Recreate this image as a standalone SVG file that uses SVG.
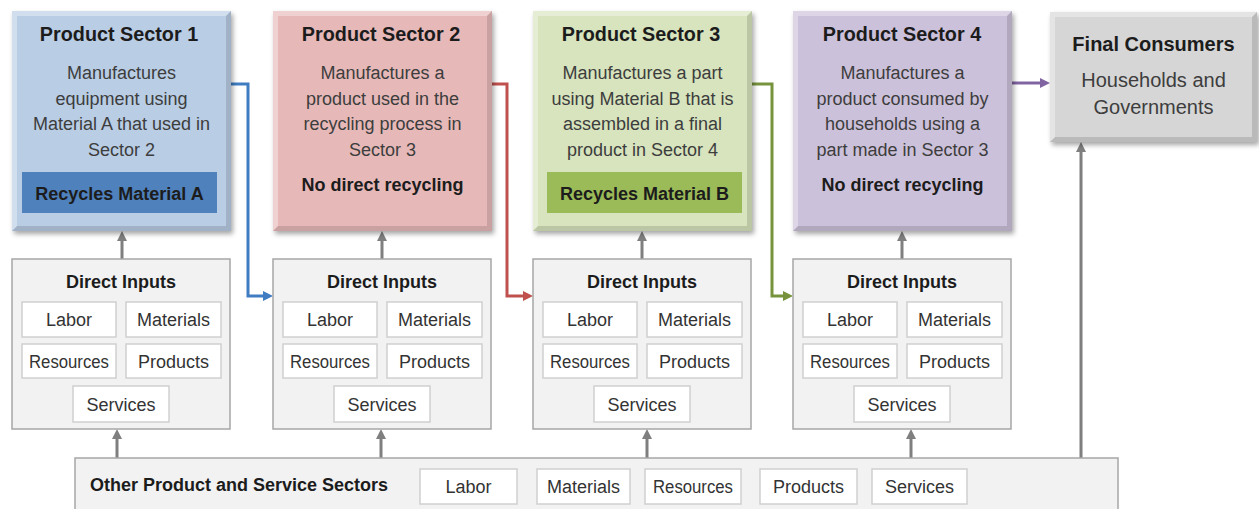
<svg xmlns="http://www.w3.org/2000/svg" xmlns:xlink="http://www.w3.org/1999/xlink" width="1259" height="509" viewBox="0 0 1259 509">
<style>
text{font-family:"Liberation Sans",Arial,sans-serif;text-anchor:middle}
.t{font-size:18px;font-weight:bold;fill:#1c1c1c}
.pt{font-size:19.8px;font-weight:bold;fill:#1c1c1c}
.b{font-size:18px;fill:#3d3d3d}
.ft{font-size:20px;font-weight:bold;fill:#1c1c1c}
.fb{font-size:20px;fill:#3d3d3d}
.s{font-size:18px;fill:#333}
.hl{fill:#fff;opacity:.35}
.dk{fill:#000;opacity:.13}
.di{fill:#f2f2f2;stroke:#a6a6a6;stroke-width:1.5}
.sb{fill:#fff;stroke:#d0d0d0;stroke-width:1.5}
.g{stroke:#7f7f7f;stroke-width:3;fill:none;marker-end:url(#ag)}
</style>
<defs>
<filter id="sh" x="-10%" y="-10%" width="125%" height="125%">
<feDropShadow dx="2" dy="3" stdDeviation="2.5" flood-color="#000" flood-opacity=".35"/>
</filter>
<g id="bev">
<polygon class="hl" points="0,0 219,0 214,5 5,5 5,215 0,220"/>
<polygon class="dk" points="219,0 219,220 0,220 5,215 214,215 214,5"/>
</g>
<marker id="ag" markerUnits="userSpaceOnUse" markerWidth="12" markerHeight="12" refX="4" refY="5" orient="auto"><path d="M0,0 L10,5 L0,10 z" fill="#7f7f7f"/></marker>
<marker id="ab" markerUnits="userSpaceOnUse" markerWidth="12" markerHeight="12" refX="4" refY="5" orient="auto"><path d="M0,0 L10,5 L0,10 z" fill="#3f7cc2"/></marker>
<marker id="ar" markerUnits="userSpaceOnUse" markerWidth="12" markerHeight="12" refX="4" refY="5" orient="auto"><path d="M0,0 L10,5 L0,10 z" fill="#c0504d"/></marker>
<marker id="agr" markerUnits="userSpaceOnUse" markerWidth="12" markerHeight="12" refX="4" refY="5" orient="auto"><path d="M0,0 L10,5 L0,10 z" fill="#77933c"/></marker>
<marker id="ap" markerUnits="userSpaceOnUse" markerWidth="12" markerHeight="12" refX="4" refY="5" orient="auto"><path d="M0,0 L10,5 L0,10 z" fill="#8064a2"/></marker>
</defs>

<g id="connectors">
<polyline points="231,84 248,84 248,296 267,296" fill="none" stroke="#3f7cc2" stroke-width="3" marker-end="url(#ab)"/>
<polyline points="491,84 507,84 507,296 527,296" fill="none" stroke="#c0504d" stroke-width="3" marker-end="url(#ar)"/>
<polyline points="751,84 772,84 772,296 787,296" fill="none" stroke="#77933c" stroke-width="3" marker-end="url(#agr)"/>
<line x1="1012" y1="83" x2="1044" y2="83" stroke="#8064a2" stroke-width="3" marker-end="url(#ap)"/>
<line class="g" x1="122" y1="259" x2="122" y2="237"/>
<line class="g" x1="382" y1="259" x2="382" y2="237"/>
<line class="g" x1="642" y1="259" x2="642" y2="237"/>
<line class="g" x1="902" y1="259" x2="902" y2="237"/>
<line class="g" x1="117" y1="458" x2="117" y2="435"/>
<line class="g" x1="381" y1="458" x2="381" y2="435"/>
<line class="g" x1="647" y1="458" x2="647" y2="435"/>
<line class="g" x1="911" y1="458" x2="911" y2="435"/>
<line class="g" x1="1081" y1="458" x2="1081" y2="148"/>
</g>

<g id="sector1" transform="translate(12,11)">
<rect width="219" height="220" fill="#b9cde5" filter="url(#sh)"/>
<use xlink:href="#bev"/>
<text class="pt" x="107" y="29.5">Product Sector 1</text>
<text class="b" x="109.5" y="68">Manufactures</text>
<text class="b" x="109.5" y="93.5">equipment using</text>
<text class="b" x="109.5" y="119">Material A that used in</text>
<text class="b" x="109.5" y="144.5">Sector 2</text>
<rect x="10" y="161" width="195" height="41" fill="#4f81bd"/>
<text class="t" x="107.5" y="188.5">Recycles Material A</text>
</g>

<g id="sector2" transform="translate(273,11)">
<rect width="219" height="220" fill="#e6b9b8" filter="url(#sh)"/>
<use xlink:href="#bev"/>
<text class="pt" x="108" y="29.5">Product Sector 2</text>
<text class="b" x="109.5" y="68">Manufactures a</text>
<text class="b" x="109.5" y="93.5">product used in the</text>
<text class="b" x="109.5" y="119">recycling process in</text>
<text class="b" x="109.5" y="144.5">Sector 3</text>
<text class="t" x="109.5" y="180">No direct recycling</text>
</g>

<g id="sector3" transform="translate(533,11)">
<rect width="219" height="220" fill="#d7e4bd" filter="url(#sh)"/>
<use xlink:href="#bev"/>
<text class="pt" x="108" y="29.5">Product Sector 3</text>
<text class="b" x="109.5" y="68">Manufactures a part</text>
<text class="b" x="109.5" y="93.5">using Material B that is</text>
<text class="b" x="109.5" y="119">assembled in a final</text>
<text class="b" x="109.5" y="144.5">product in Sector 4</text>
<rect x="14" y="161" width="195" height="41" fill="#9bbb59"/>
<text class="t" x="111.5" y="188.5">Recycles Material B</text>
</g>

<g id="sector4" transform="translate(793,11)">
<rect width="219" height="220" fill="#ccc1da" filter="url(#sh)"/>
<use xlink:href="#bev"/>
<text class="pt" x="109" y="29.5">Product Sector 4</text>
<text class="b" x="109.5" y="68">Manufactures a</text>
<text class="b" x="109.5" y="93.5">product consumed by</text>
<text class="b" x="109.5" y="119">households using a</text>
<text class="b" x="109.5" y="144.5">part made in Sector 3</text>
<text class="t" x="109.5" y="180">No direct recycling</text>
</g>

<g id="final-consumers" transform="translate(1050,12)">
<rect width="207" height="130" fill="#d6d6d6" filter="url(#sh)"/>
<polygon class="hl" points="0,0 207,0 202,5 5,5 5,125 0,130"/>
<polygon class="dk" points="207,0 207,130 0,130 5,125 202,125 202,5"/>
<text class="ft" x="103.5" y="39">Final Consumers</text>
<text class="fb" x="103.5" y="74.5">Households and</text>
<text class="fb" x="103.5" y="101.5">Governments</text>
</g>

<g id="inputs1" transform="translate(12,259)">
<rect class="di" width="218" height="170"/>
<text class="t" x="109" y="29">Direct Inputs</text>
<rect class="sb" x="10" y="43" width="94" height="35"/><text class="s" x="57" y="67">Labor</text>
<rect class="sb" x="114" y="43" width="95" height="35"/><text class="s" x="161.5" y="67">Materials</text>
<rect class="sb" x="10" y="85" width="94" height="34"/><text class="s" x="57" y="109" textLength="80" lengthAdjust="spacingAndGlyphs">Resources</text>
<rect class="sb" x="114" y="85" width="95" height="34"/><text class="s" x="161.5" y="109">Products</text>
<rect class="sb" x="61" y="127" width="96" height="36"/><text class="s" x="109" y="152">Services</text>
</g>

<g id="inputs2" transform="translate(273,259)">
<rect class="di" width="218" height="170"/>
<text class="t" x="109" y="29">Direct Inputs</text>
<rect class="sb" x="10" y="43" width="94" height="35"/><text class="s" x="57" y="67">Labor</text>
<rect class="sb" x="114" y="43" width="95" height="35"/><text class="s" x="161.5" y="67">Materials</text>
<rect class="sb" x="10" y="85" width="94" height="34"/><text class="s" x="57" y="109" textLength="80" lengthAdjust="spacingAndGlyphs">Resources</text>
<rect class="sb" x="114" y="85" width="95" height="34"/><text class="s" x="161.5" y="109">Products</text>
<rect class="sb" x="61" y="127" width="96" height="36"/><text class="s" x="109" y="152">Services</text>
</g>

<g id="inputs3" transform="translate(533,259)">
<rect class="di" width="218" height="170"/>
<text class="t" x="109" y="29">Direct Inputs</text>
<rect class="sb" x="10" y="43" width="94" height="35"/><text class="s" x="57" y="67">Labor</text>
<rect class="sb" x="114" y="43" width="95" height="35"/><text class="s" x="161.5" y="67">Materials</text>
<rect class="sb" x="10" y="85" width="94" height="34"/><text class="s" x="57" y="109" textLength="80" lengthAdjust="spacingAndGlyphs">Resources</text>
<rect class="sb" x="114" y="85" width="95" height="34"/><text class="s" x="161.5" y="109">Products</text>
<rect class="sb" x="61" y="127" width="96" height="36"/><text class="s" x="109" y="152">Services</text>
</g>

<g id="inputs4" transform="translate(793,259)">
<rect class="di" width="218" height="170"/>
<text class="t" x="109" y="29">Direct Inputs</text>
<rect class="sb" x="10" y="43" width="94" height="35"/><text class="s" x="57" y="67">Labor</text>
<rect class="sb" x="114" y="43" width="95" height="35"/><text class="s" x="161.5" y="67">Materials</text>
<rect class="sb" x="10" y="85" width="94" height="34"/><text class="s" x="57" y="109" textLength="80" lengthAdjust="spacingAndGlyphs">Resources</text>
<rect class="sb" x="114" y="85" width="95" height="34"/><text class="s" x="161.5" y="109">Products</text>
<rect class="sb" x="61" y="127" width="96" height="36"/><text class="s" x="109" y="152">Services</text>
</g>

<g id="other-sectors">
<rect class="di" x="75" y="458" width="1043" height="60"/>
<text class="t" x="239" y="491">Other Product and Service Sectors</text>
<rect class="sb" x="420" y="469" width="97" height="35"/><text class="s" x="468.5" y="493">Labor</text>
<rect class="sb" x="537" y="469" width="93" height="35"/><text class="s" x="583.5" y="493">Materials</text>
<rect class="sb" x="645" y="469" width="96" height="35"/><text class="s" x="693" y="493" textLength="80" lengthAdjust="spacingAndGlyphs">Resources</text>
<rect class="sb" x="760" y="469" width="97" height="35"/><text class="s" x="808.5" y="493">Products</text>
<rect class="sb" x="872" y="469" width="95" height="35"/><text class="s" x="919.5" y="493">Services</text>
</g>
</svg>
